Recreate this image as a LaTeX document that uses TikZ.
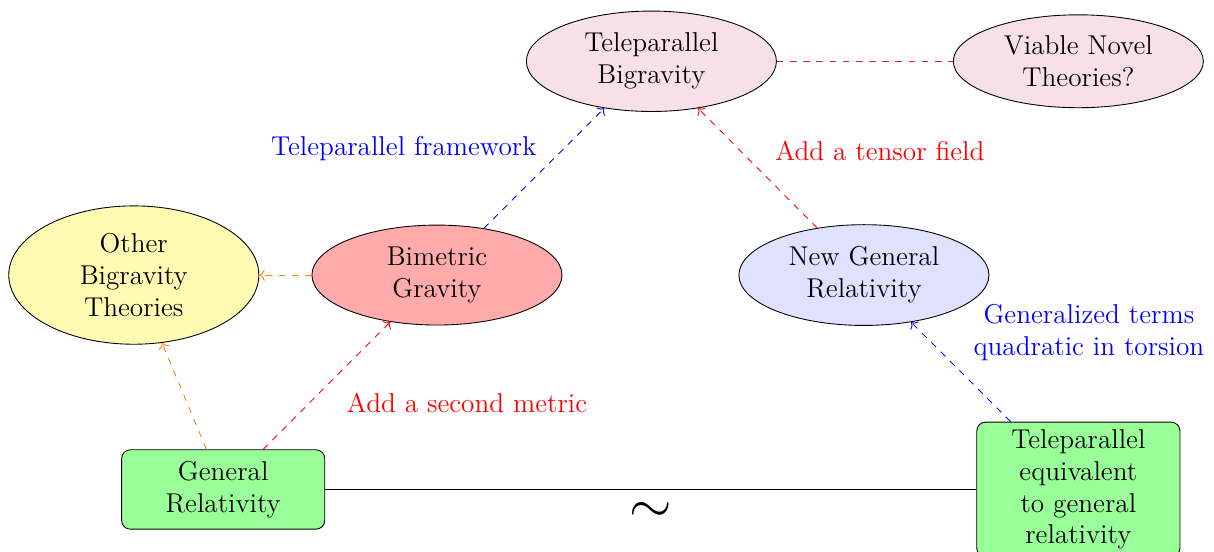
\documentclass[tikz,border=0pt]{standalone}
\usepackage{amsmath,amssymb}
\usepackage{tikz}
\usetikzlibrary{shapes,arrows,positioning,arrows.meta}
\usepackage{xcolor}
\definecolor{novelpink}{RGB}{200,30,90}

\begin{document}
\begin{tikzpicture}[
    theory/.style={ellipse, draw, minimum width=4cm, align=center, font=\fontsize{12.4}{14.5}\selectfont},
    base/.style={rectangle, draw, rounded corners, fill=green!40, minimum width=3.25cm, minimum height=1.27cm, align=center, font=\fontsize{12.4}{14.5}\selectfont},
    link/.style={->, dashed},
    lbl/.style={font=\fontsize{12.4}{14.5}\selectfont, align=center}
]
    \useasboundingbox (0,0) rectangle (19.42,-8.83);

    % Top row
    \node[theory, fill=purple!12] (tbg) at (10.42, -0.98) {Teleparallel\\Bigravity};
    \node[theory, fill=purple!12] (novel) at (17.25, -0.98) {Viable Novel\\Theories?};

    % Middle row
    \node[theory, fill=yellow!30] (other) at (2.14, -4.40) {Other\\Bigravity\\Theories};
    \node[theory, fill=red!33] (bim) at (6.99, -4.40) {Bimetric\\Gravity};
    \node[theory, fill=blue!12] (ngr) at (13.82, -4.40) {New General\\Relativity};

    % Bottom row
    \node[base] (gr) at (3.57, -7.83) {General\\Relativity};
    \node[base] (tegr) at (17.25, -7.83) {Teleparallel\\equivalent\\to general\\relativity};

    % Arrows
    \draw[link, orange] (bim) -- (other);
    \draw[link, orange] (gr) -- (other);
    \draw[link, red] (gr) -- node[lbl, midway, below right, xshift=0.2cm, red] {Add a second metric} (bim);
    \draw[link, blue] (bim) -- node[lbl, midway, above left, blue] {Teleparallel framework} (tbg);
    \draw[link, red] (ngr) -- node[lbl, midway, above right, xshift=0.16cm, red] {Add a tensor field} (tbg);
    \draw[link, blue] (tegr) -- node[lbl, midway, above right, xshift=0.08cm, yshift=0.05cm, blue] {Generalized terms\\quadratic in torsion} (ngr);
    \draw[dashed, novelpink] (tbg) -- (novel);
    \draw[thick] (gr) -- node[midway, below, yshift=-0.08cm] {\Huge $\sim$} (tegr);
\end{tikzpicture}
\end{document}
